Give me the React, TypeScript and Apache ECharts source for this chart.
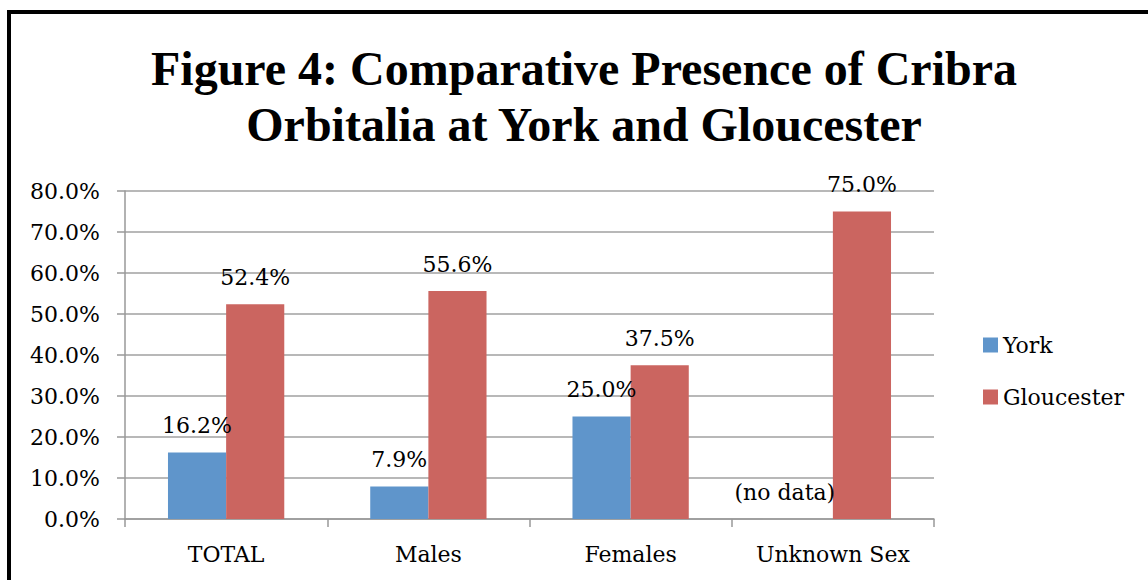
import React, { useEffect, useRef } from "react";
import * as echarts from "echarts";

const categories = ["TOTAL", "Males", "Females", "Unknown Sex"];
const yorkValues: (number | null)[] = [16.2, 7.9, 25.0, null];
const gloucesterValues: number[] = [52.4, 55.6, 37.5, 75.0];
const seriesNames = ["York", "Gloucester"];
const titleText = "Figure 4: Comparative Presence of Cribra\nOrbitalia at York and Gloucester";
const noDataText = "(no data)";

const FONT = "'DejaVu Serif', serif";

export default function App() {
  const ref = useRef<HTMLDivElement>(null);
  useEffect(() => {
    if (!ref.current) return;
    const chart = echarts.init(ref.current, undefined, { renderer: "svg" });
    const labelStyle = {
      show: true,
      position: "top" as const,
      distance: 16,
      fontFamily: FONT,
      fontSize: 22,
      color: "#000",
      formatter: (p: any) => `${Number(p.value).toFixed(1)}%`,
    };
    const yorkData = yorkValues.map((v) =>
      v === null
        ? { value: 0, label: { formatter: noDataText, offset: [-19, 0] } }
        : v
    );
    chart.setOption({
      animation: false,
      backgroundColor: "#fff",
      title: {
        text: titleText,
        left: 584,
        top: 40,
        padding: 0,
        textAlign: "center",
        textStyle: {
          fontFamily: "'Liberation Serif', 'Times New Roman', serif",
          fontWeight: "bold",
          fontSize: 48,
          lineHeight: 56,
          color: "#000",
        },
      },
      graphic: [
        {
          type: "rect",
          shape: { x: 9, y: 12, width: 1300, height: 700 },
          style: { fill: "none", stroke: "#000", lineWidth: 4 },
          silent: true,
        },
      ],
      legend: {
        orient: "vertical",
        left: 983,
        top: 334,
        padding: 0,
        itemWidth: 15,
        itemHeight: 15,
        itemGap: 30,
        icon: "rect",
        data: seriesNames,
        textStyle: {
          fontFamily: FONT,
          fontSize: 22,
          lineHeight: 22,
          color: "#000",
        },
      },
      grid: { left: 125, right: 214, top: 191, bottom: 61 },
      xAxis: {
        type: "category",
        data: categories,
        axisLine: { lineStyle: { color: "#999", width: 1.5 } },
        axisTick: { show: true, length: 8, lineStyle: { color: "#999", width: 1.5 } },
        axisLabel: { fontFamily: FONT, fontSize: 22, color: "#000", margin: 24 },
      },
      yAxis: {
        type: "value",
        min: 0,
        max: 80,
        interval: 10,
        axisLine: { show: true, lineStyle: { color: "#999", width: 1.5 } },
        axisTick: { show: true, length: 8, lineStyle: { color: "#999", width: 1.5 } },
        splitLine: { lineStyle: { color: "#a0a0a0", width: 1.5 } },
        axisLabel: {
          fontFamily: FONT,
          fontSize: 22,
          color: "#000",
          margin: 25,
          formatter: (v: number) => `${v.toFixed(1)}%`,
        },
      },
      series: [
        {
          name: seriesNames[0],
          type: "bar",
          data: yorkData,
          barGap: "0%",
          barCategoryGap: "42.5%",
          itemStyle: { color: "#5f95cb" },
          label: labelStyle,
        },
        {
          name: seriesNames[1],
          type: "bar",
          data: gloucesterValues,
          barGap: "0%",
          barCategoryGap: "42.5%",
          itemStyle: { color: "#cb6560" },
          label: labelStyle,
        },
      ],
    });
    return () => chart.dispose();
  }, []);
  return (
    <div
      ref={ref}
      style={{ position: "absolute", left: 0, top: 0, width: 1148, height: 580 }}
    />
  );
}
